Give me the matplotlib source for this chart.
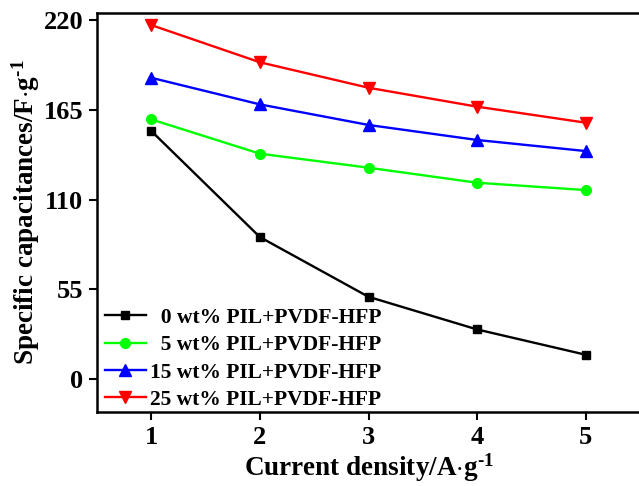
import numpy as np
import matplotlib
matplotlib.use('Agg')
from matplotlib import pyplot as plt

plt.rcParams['font.family'] = 'Liberation Serif'
plt.rcParams['font.weight'] = 'bold'
plt.rcParams['mathtext.fontset'] = 'custom'
plt.rcParams['mathtext.rm'] = 'Liberation Serif:bold'
plt.rcParams['mathtext.it'] = 'Liberation Serif:bold'
plt.rcParams['mathtext.bf'] = 'Liberation Serif:bold'

# current density, A/g
current = [1, 2, 3, 4, 5]
# specific capacitances, F/g
cap_0 = [152.0, 87.0, 50.4, 30.4, 14.9]
cap_5 = [159.1, 138.1, 129.5, 120.3, 115.8]
cap_15 = [184.6, 168.3, 155.7, 146.5, 139.7]
cap_25 = [216.9, 194.1, 178.5, 166.9, 157.1]

labels = ['  0 wt% PIL+PVDF-HFP', '  5 wt% PIL+PVDF-HFP',
          '15 wt% PIL+PVDF-HFP', '25 wt% PIL+PVDF-HFP']
xticks = [1, 2, 3, 4, 5]
yticks = [0, 55, 110, 165, 220]

fig = plt.figure(figsize=(6.39, 4.86), dpi=100)
ax = fig.add_axes([97/639, 1 - 411.7/486, (640 - 97)/639, (411.7 - 13)/486])

ax.plot(current, cap_0, 's-', color='black', lw=1.7, ms=6, label=labels[0])
ax.plot(current, cap_5, 'o-', color='#00ff00', lw=1.7, ms=7, label=labels[1])
ax.plot(current, cap_15, '^-', color='blue', lw=1.7, ms=8, label=labels[2])
ax.plot(current, cap_25, 'v-', color='red', lw=1.7, ms=8, label=labels[3])

ax.set_xlim(0.5, 5.5)
ax.set_ylim(-20, 224.3)
ax.set_xticks(xticks)
ax.set_yticks(yticks)
ax.tick_params(direction='out', length=6, width=1.5, labelsize=19, pad=4)
for s in ax.spines.values():
    s.set_linewidth(1.8)

ax.set_xlabel('Current density/A$\\cdot$g$^{\\text{-1}}$', fontsize=19.5, fontweight='bold', labelpad=2)
ax.set_ylabel('Specific capacitances/F$\\cdot$g$^{\\text{-1}}$', fontsize=19.5, fontweight='bold', labelpad=1)

ax.legend(loc='lower left', bbox_to_anchor=(-0.009, -0.028), frameon=False,
          fontsize=15.5, handlelength=1.9, labelspacing=0.34, handletextpad=0.2,
          borderaxespad=0.2)

plt.savefig('out.png', dpi=100)
